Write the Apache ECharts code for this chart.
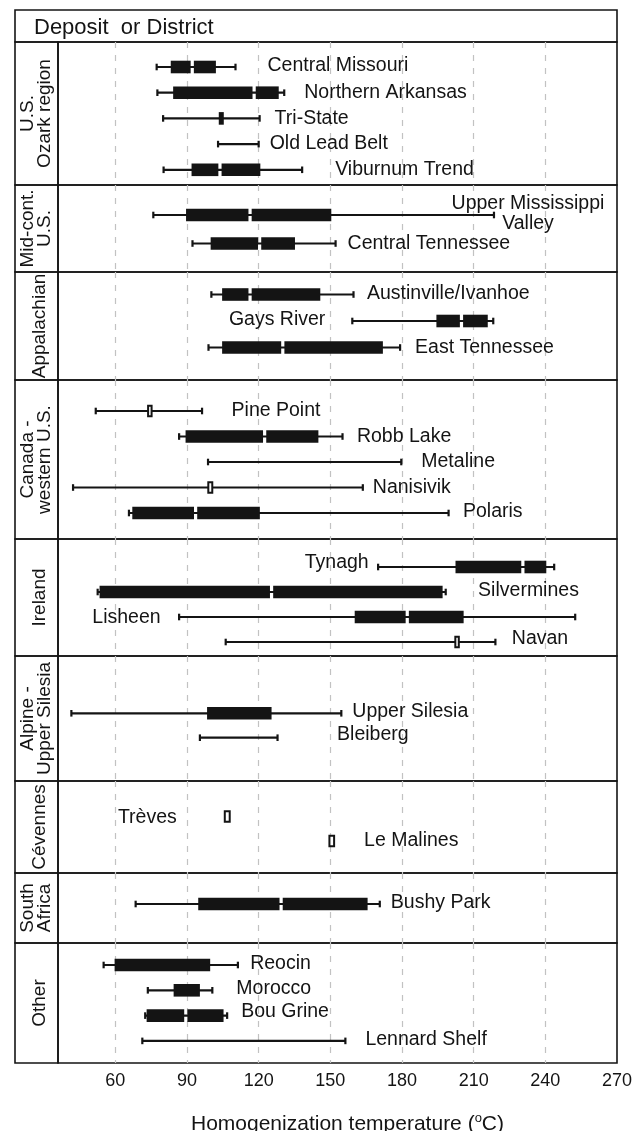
<!DOCTYPE html>
<html><head><meta charset="utf-8">
<script src="https://cdn.jsdelivr.net/npm/echarts@6/dist/echarts.min.js"></script>
<style>html,body{margin:0;padding:0;background:#fff}#c{width:644px;height:1131px}</style>
</head><body><div id="c"></div>
<script>
// ---------------- data ----------------
const groupNames = ['U.S.\nOzark region', 'Mid-cont.\nU.S.', 'Appalachian', 'Canada -\nwestern U.S.', 'Ireland', 'Alpine -\nUpper Silesia', 'Cévennes', 'South\nAfrica', 'Other'];
const depositNames = ['Central Missouri', 'Northern Arkansas', 'Tri-State', 'Old Lead Belt', 'Viburnum Trend',
  'Upper Mississippi\nValley', 'Central Tennessee',
  'Austinville/Ivanhoe', 'Gays River', 'East Tennessee',
  'Pine Point', 'Robb Lake', 'Metaline', 'Nanisivik', 'Polaris',
  'Tynagh', 'Silvermines', 'Lisheen', 'Navan',
  'Upper Silesia', 'Bleiberg',
  'Trèves', 'Le Malines',
  'Bushy Park',
  'Reocin', 'Morocco', 'Bou Grine', 'Lennard Shelf'];
const depositGroup = [0,0,0,0,0, 1,1, 2,2,2, 3,3,3,3,3, 4,4,4,4, 5,5, 6,6, 7, 8,8,8,8];
const whiskerLow  = [77.3, 77.6, 80.0, 103.0, 80.2, 75.9, 92.3, 100.2, 159.2, 99.0, 51.8, 86.7, 98.8, 42.3, 65.7, 170.0, 52.6, 86.7, 106.2, 41.6, 95.4, null, null, 68.5, 55.1, 73.6, 72.5, 71.3];
const boxLow      = [83.2, 84.2, 103.3, null, 91.9, 89.6, 99.9, 104.7, 194.4, 104.7, 73.3, 89.4, null, 98.5, 67.1, 202.4, 53.4, 160.2, 201.9, 98.4, null, 105.4, 149.2, 94.7, 59.7, 84.4, 73.1, null];
const medianValue = [92.2, 118.1, null, null, 103.8, 116.4, 120.4, 116.4, 204.9, 130.1, null, 122.5, null, null, 93.6, 230.6, 125.4, 182.2, null, null, null, null, null, 129.4, null, null, 89.5, null];
const boxHigh     = [102.1, 128.4, 105.4, null, 120.7, 150.4, 135.2, 145.8, 215.9, 172.0, 75.6, 145.0, null, 101.0, 120.5, 240.4, 197.0, 205.8, 204.2, 125.4, null, 108.3, 152.0, 165.6, 99.7, 95.4, 105.3, null];
const whiskerHigh = [110.3, 130.7, 120.4, 120.0, 138.2, 218.5, 152.2, 159.7, 218.2, 179.2, 96.3, 155.1, 179.7, 163.6, 199.5, 243.7, 198.3, 252.5, 219.1, 154.6, 127.9, null, null, 170.7, 111.3, 100.6, 106.8, 156.3];
const markerType  = ['filled','filled','filled','filled','filled','filled','filled','filled','filled','filled',
  'open','filled','filled','open','filled','filled','filled','filled','open','filled','filled','open','open',
  'filled','filled','filled','filled','filled'];
const tickValues = [60, 90, 120, 150, 180, 210, 240, 270];
const gridValues = [60, 90, 120, 150, 180, 210, 240];
const headerText = 'Deposit  or District';
const axisTitle = 'Homogenization temperature ({sup|o}C)';
const axisMin = 36, axisMax = 270;

// ---------------- layout (pixels) ----------------
const INK = '#141414';
const FONT = '"Liberation Sans", Arial, Helvetica, sans-serif';
const W = 644;
const FRAME_L = 15, PLOT_L = 58, PLOT_R = 617, FRAME_T = 10, HEADER_B = 42;
const groupLayout = [
  {top: 42,  bottom: 185,  first: 67,    step: 25.7},
  {top: 185, bottom: 272,  first: 215,   step: 28.5},
  {top: 272, bottom: 380,  first: 294.5, step: 26.5},
  {top: 380, bottom: 539,  first: 411,   step: 25.5},
  {top: 539, bottom: 656,  first: 567,   step: 25},
  {top: 656, bottom: 781,  first: 713.3, step: 24.4},
  {top: 781, bottom: 873,  first: 816.5, step: 24.5},
  {top: 873, bottom: 943,  first: 904,   step: 25},
  {top: 943, bottom: 1063, first: 965,   step: 25.3}
];
// label placement per deposit: [side, dx px, dy px]
const labelPlacement = [
  ['right',32,-1],['right',20,0],['right',15,0],['right',11,0],['right',33,0],
  ['center',34,-1],['right',12,0],
  ['right',13.5,-1],['left',27,-1],['right',15,0],
  ['right',29.5,0],['right',14.4,0],['right',20,0],['right',10,0],['right',14.4,-1],
  ['left',9.4,-4],['right',32.4,-1],['left',18.5,1],['right',16.4,-3],
  ['right',11,-2],['right',59.5,-3],
  ['left',47,1],['right',29,0],
  ['right',11,-1],
  ['right',12.3,-1],['right',24,-2],['right',14,-4],['right',20,-1]
];
const LABEL_LH = 17, GROUP_FS = 19, DEPOSIT_FS = 19.5, DEPOSIT_LH = 20;

// ---------------- build ----------------
const groupMembers = groupNames.map((_, gi) => depositNames.map((n, i) => i).filter(i => depositGroup[i] === gi));
const nv = v => (v == null ? '-' : v);

function renderFor(gi) {
  const members = groupMembers[gi];
  return function (params, api) {
    const di = members[params.dataIndex];
    const row = params.dataIndex;
    const px = v => api.coord([v, row])[0];
    const y = api.coord([axisMin, row])[1];
    const wl = whiskerLow[di], wh = whiskerHigh[di], bl = boxLow[di], bh = boxHigh[di], md = medianValue[di];
    const kids = [];
    const lineStyle = {stroke: INK, lineWidth: 2.2};
    if (wl != null && wh != null) {
      kids.push({type: 'line', shape: {x1: px(wl), y1: y, x2: px(wh), y2: y}, style: lineStyle});
      [wl, wh].forEach(v => kids.push({type: 'line', shape: {x1: px(v), y1: y - 3.3, x2: px(v), y2: y + 3.3}, style: lineStyle}));
    }
    const h = 12.6;
    const solid = (a, b) => ({type: 'rect', shape: {x: a, y: y - h / 2, width: Math.max(b - a, 1), height: h}, style: {fill: INK}});
    if (bl != null && bh != null) {
      if (markerType[di] === 'open') {
        kids.push({type: 'rect', shape: {x: px(bl) + 1, y: y - h / 2 + 1, width: px(bh) - px(bl) - 2, height: h - 2},
          style: {fill: '#fff', stroke: INK, lineWidth: 2}});
      } else if (md != null) {
        kids.push(solid(px(bl), px(md) - 1.6));
        kids.push(solid(px(md) + 1.6, px(bh)));
      } else {
        kids.push(solid(px(bl), px(bh)));
      }
    }
    const lp = labelPlacement[di];
    let lx, align;
    if (lp[0] === 'left') { lx = px(wl != null ? wl : bl) - lp[1]; align = 'right'; }
    else if (lp[0] === 'center') { lx = px(wh != null ? wh : bh) + lp[1]; align = 'center'; }
    else { lx = px(wh != null ? wh : bh) + lp[1]; align = 'left'; }
    kids.push({type: 'text', x: lx, y: y + lp[2], style: {text: depositNames[di], fontSize: DEPOSIT_FS, fontFamily: FONT,
      fill: INK, align: align, verticalAlign: 'middle', lineHeight: DEPOSIT_LH}});
    return {type: 'group', children: kids};
  };
}

const grids = [], xAxes = [], yAxes = [], series = [];
groupLayout.forEach((g, gi) => {
  const last = gi === groupLayout.length - 1;
  const nLines = groupNames[gi].split('\n').length;
  const cx = nLines > 1 ? 36.5 : 39.5;
  grids.push({left: PLOT_L, right: W - PLOT_R, top: g.top, height: g.bottom - g.top, show: true,
    borderColor: INK, borderWidth: 1.6, backgroundColor: 'transparent', containLabel: false, outerBoundsMode: 'none'});
  xAxes.push({
    gridIndex: gi, type: 'value', min: axisMin, max: axisMax,
    axisLine: {show: false}, axisTick: {show: false, customValues: gridValues},
    splitLine: {show: true, lineStyle: {color: '#c2c2c2', width: 1.2, type: [6, 7]}},
    axisLabel: last ? {show: true, customValues: tickValues, fontSize: 18, color: INK, fontFamily: FONT, margin: 9} : {show: false},
    name: last ? axisTitle : '', nameLocation: 'middle', nameGap: 49,
    nameTextStyle: {fontSize: 21, color: INK, fontFamily: FONT, lineHeight: 24, padding: [0, 0, 0, 20],
      rich: {sup: {fontSize: 13, lineHeight: 13, verticalAlign: 'top', color: INK, fontFamily: FONT}}}
  });
  yAxes.push({
    gridIndex: gi, type: 'value', inverse: true,
    min: -(g.first - g.top) / g.step, max: (g.bottom - g.first) / g.step,
    axisLine: {show: false}, axisTick: {show: false}, axisLabel: {show: false}, splitLine: {show: false},
    name: groupNames[gi], nameLocation: 'middle', nameRotate: 90,
    nameGap: PLOT_L - cx - nLines * LABEL_LH / 2,
    nameTextStyle: {fontSize: GROUP_FS, lineHeight: LABEL_LH, color: INK, fontFamily: FONT}
  });
  series.push({
    type: 'custom', xAxisIndex: gi, yAxisIndex: gi, clip: false, silent: true,
    renderItem: renderFor(gi),
    encode: {x: [1, 2, 3, 4, 5], y: 0},
    data: groupMembers[gi].map((di, r) => [r, nv(whiskerLow[di]), nv(boxLow[di]), nv(medianValue[di]), nv(boxHigh[di]), nv(whiskerHigh[di])])
  });
});

const graphic = [
  {type: 'rect', shape: {x: FRAME_L, y: FRAME_T, width: PLOT_R - FRAME_L, height: HEADER_B - FRAME_T},
    style: {fill: 'none', stroke: INK, lineWidth: 1.6}},
  {type: 'text', x: 34, y: 27.5, style: {text: headerText, fontSize: 22, fontFamily: FONT, fill: INK, verticalAlign: 'middle'}}
].concat(groupLayout.map(g => ({type: 'rect', shape: {x: FRAME_L, y: g.top, width: PLOT_L - FRAME_L, height: g.bottom - g.top},
    style: {fill: 'none', stroke: INK, lineWidth: 1.6}})));

const chart = echarts.init(document.getElementById('c'), null, {renderer: 'canvas'});
chart.setOption({
  animation: false,
  backgroundColor: '#fff',
  grid: grids, xAxis: xAxes, yAxis: yAxes, series: series, graphic: graphic
});
</script></body></html>
